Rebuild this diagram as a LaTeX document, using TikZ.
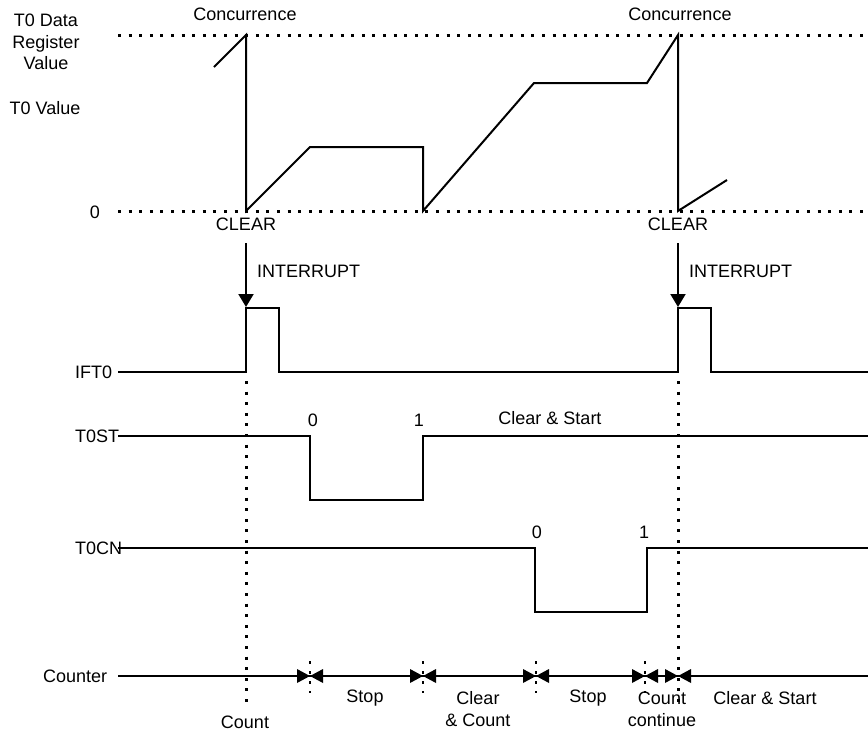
\documentclass[tikz,border=0pt]{standalone}
\usepackage{fontspec}
\setmainfont{Liberation Sans}
\usetikzlibrary{arrows.meta}
\begin{document}
\begin{tikzpicture}[x=1pt,y=-1pt,
  wave/.style={line width=2pt, line join=miter},
  dotline/.style={line width=3pt, dash pattern=on 3pt off 7.6pt},
  tickline/.style={line width=2.6pt, dash pattern=on 3pt off 7pt},
  lbl/.style={font=\fontsize{18}{22}\selectfont, inner sep=0pt},
  intarrow/.style={line width=2pt, -{Triangle[width=15pt,length=13pt]}},
  ]
\useasboundingbox (0,0) rectangle (868,737);

% reference levels
\coordinate (topL) at (118,35);  \coordinate (topR) at (868,35);
\coordinate (zeroL) at (118,211); \coordinate (zeroR) at (868,211);
\draw[dotline] (topL) -- (topR);
\draw[dotline] (zeroL) -- (zeroR);

% left labels
\node[lbl, align=center, font=\fontsize{18}{21.5}\selectfont] (regval) at (46,42) {T0 Data\\Register\\Value};
\node[lbl] (t0val) at (45,108) {T0 Value};
\node[lbl] (zero) at (95,212) {0};
\node[lbl] (conc1) at (245,14) {Concurrence};
\node[lbl] (conc2) at (680,14) {Concurrence};

% T0 value waveform
\draw[wave] (214,67) -- (246,35) -- (246,211) -- (310,147) -- (423,147) -- (423,211)
  -- (534,83) -- (647,83) -- (678,35) -- (678,211) -- (727,180);

\node[lbl] (clr1) at (246,224) {CLEAR};
\node[lbl] (clr2) at (678,224) {CLEAR};

% interrupt arrows
\coordinate (i1s) at (246,243); \coordinate (i1e) at (246,307);
\coordinate (i2s) at (678,243); \coordinate (i2e) at (678,307);
\draw[intarrow] (i1s) -- (i1e);
\draw[intarrow] (i2s) -- (i2e);
\node[lbl, anchor=west] (int1) at (257,271) {INTERRUPT};
\node[lbl, anchor=west] (int2) at (689,271) {INTERRUPT};

% IFT0
\node[lbl, anchor=west] (ift0) at (75,372) {IFT0};
\draw[wave] (118,372) -- (246,372) -- (246,308) -- (279,308) -- (279,372) -- (678,372)
  -- (678,308) -- (711,308) -- (711,372) -- (868,372);

% T0ST
\node[lbl, anchor=west] (t0st) at (75,436) {T0ST};
\draw[wave] (118,436) -- (310,436) -- (310,500) -- (423,500) -- (423,436) -- (868,436);
\node[lbl] (st0) at (313,420) {0};
\node[lbl] (st1) at (419,420) {1};
\node[lbl] (clrst) at (550,418) {Clear \& Start};

% T0CN
\node[lbl, anchor=west] (t0cn) at (75,548) {T0CN};
\draw[wave] (118,548) -- (535,548) -- (535,612) -- (647,612) -- (647,548) -- (868,548);
\node[lbl] (cn0) at (537,532) {0};
\node[lbl] (cn1) at (644,532) {1};

% vertical dotted guides
\draw[dotline] (246,381) -- (246,706);
\draw[dotline] (678,381) -- (678,706);

% Counter
\node[lbl, anchor=west] (counter) at (43,676) {Counter};
\draw[wave] (118,676) -- (868,676);
\foreach \x in {310,423,536,645} {
  \draw[tickline] (\x,661) -- (\x,693);
}
\foreach \x in {310,423,536,645,678} {
  \fill (\x-13,669) -- (\x,676) -- (\x-13,683) -- cycle;
  \fill (\x+13,669) -- (\x,676) -- (\x+13,683) -- cycle;
}

\node[lbl] (cnt) at (245,722) {Count};
\node[lbl] (stop1) at (365,698) {Stop};
\node[lbl, align=center] (clrcnt) at (478,709) {Clear\\\& Count};
\node[lbl] (stop2) at (588,698) {Stop};
\node[lbl, align=center] (cntcont) at (662,709) {Count\\continue};
\node[lbl] (clrst2) at (765,698) {Clear \& Start};
\end{tikzpicture}
\end{document}
